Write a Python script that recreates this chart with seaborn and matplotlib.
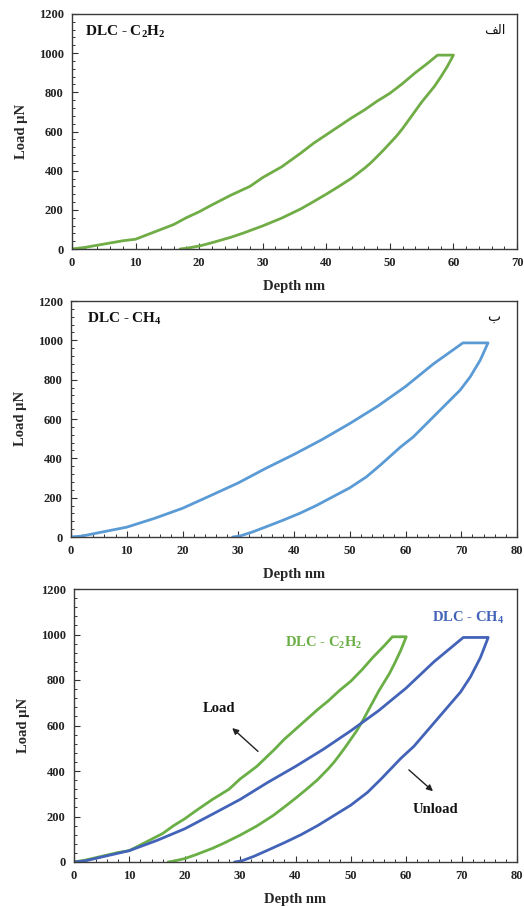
import matplotlib
matplotlib.use("Agg")
import matplotlib.pyplot as plt
import seaborn as sns
import pandas as pd
from matplotlib.ticker import MultipleLocator

# ---------------- data ----------------
c2h2_load_depth = [0, 2, 5, 8, 10, 12, 14, 16, 18, 20, 22, 25, 28, 30, 33, 36, 38, 41, 44, 46, 48, 50, 52, 54, 56, 57.5]
c2h2_load_force = [0, 8, 25, 42, 50, 75, 100, 125, 160, 190, 225, 275, 320, 365, 420, 490, 540, 605, 670, 710, 755, 795, 845, 900, 950, 990]
c2h2_unload_depth = [60, 59.5, 59, 58, 57, 56, 55, 54, 53, 52, 51, 50, 49, 48, 47, 46, 44, 42, 40, 38, 36, 33, 30, 27, 25, 22, 20, 18, 17]
c2h2_unload_force = [990, 960, 930, 878, 830, 790, 750, 705, 660, 615, 575, 540, 505, 472, 440, 412, 362, 320, 280, 242, 205, 158, 118, 82, 60, 32, 15, 4, 0]

ch4_load_depth = [0, 2, 5, 10, 15, 20, 25, 30, 35, 40, 45, 50, 55, 60, 65, 70.3]
ch4_load_force = [0, 5, 22, 50, 95, 146, 210, 275, 350, 420, 495, 577, 665, 765, 880, 987]
ch4_unload_depth = [74.8, 73.4, 71.6, 69.8, 67.4, 64.4, 61.4, 59, 55.5, 53, 50, 47, 44, 41, 38, 35, 32.5, 30.3, 29]
ch4_unload_force = [987, 899, 814, 747, 679, 594, 509, 455, 366, 306, 250, 205, 160, 120, 85, 52, 25, 5, 0]

y_ticks = [0, 200, 400, 600, 800, 1000, 1200]


def cycle_frame(ld, lf, ud, uf):
    d = list(ld) + list(ud)
    f = list(lf) + list(uf)
    return pd.DataFrame({"depth": d, "load": f})


c2h2 = cycle_frame(c2h2_load_depth, c2h2_load_force, c2h2_unload_depth, c2h2_unload_force)
ch4 = cycle_frame(ch4_load_depth, ch4_load_force, ch4_unload_depth, ch4_unload_force)

# ---------------- style ----------------
sns.set_style("white")
plt.rcParams["font.family"] = ["Liberation Serif", "DejaVu Sans"]
plt.rcParams["font.weight"] = "bold"
plt.rcParams["mathtext.fontset"] = "custom"
plt.rcParams["mathtext.bf"] = "Liberation Serif:bold"
plt.rcParams["mathtext.rm"] = "Liberation Serif:bold"
plt.rcParams["mathtext.default"] = "bf"

GREEN = "#70ad47"
LBLUE = "#5b9bd5"
DBLUE = "#4263b8"
GREEN3 = "#6aaf45"

fig = plt.figure(figsize=(5.24, 9.06), dpi=100)
W, H = 524.0, 906.0


def add_axes(l, r, t, b):
    return fig.add_axes([l / W, 1 - b / H, (r - l) / W, (b - t) / H])


ax1 = add_axes(72, 517, 14, 249)
ax2 = add_axes(71, 517, 301, 537)
ax3 = add_axes(74, 517, 589, 862)


def style(ax, xmax):
    ax.set_xlim(0, xmax)
    ax.set_ylim(0, 1200)
    ax.set_yticks(y_ticks)
    ax.xaxis.set_major_locator(MultipleLocator(10))
    ax.xaxis.set_minor_locator(MultipleLocator(2))
    ax.yaxis.set_minor_locator(MultipleLocator(40))
    ax.tick_params(which="both", direction="in", left=True, bottom=True,
                   top=False, right=False, colors="#333333", labelcolor="#222222")
    ax.tick_params(which="major", length=4, width=0.8, labelsize=9, pad=6)
    ax.tick_params(which="minor", length=2.5, width=0.7)
    for lab in ax.get_xticklabels() + ax.get_yticklabels():
        lab.set_fontweight("bold")
    for s in ax.spines.values():
        s.set_color("#3a3a3a")
        s.set_linewidth(1.0)
    ax.set_xlabel("Depth nm", fontsize=10.5, fontweight="bold", labelpad=8)
    ax.set_ylabel("Load \u00b5N", fontsize=10.5, fontweight="bold", labelpad=8)


# panel 1
sns.lineplot(data=c2h2, x="depth", y="load", sort=False, estimator=None,
             color=GREEN, linewidth=2.0, ax=ax1)
style(ax1, 70)
ax1.text(0.029, 0.925, "DLC - C$_2$H$_2$", transform=ax1.transAxes,
         fontsize=11, fontweight="bold", va="center", ha="left", color="#111111")
ax1.text(0.975, 0.932, "\uFED2\uFEDF\uFE8D", transform=ax1.transAxes,
         fontsize=9.5, fontweight="normal", va="center", ha="right", color="#111111",
         family=["DejaVu Sans", "Noto Sans"])

# panel 2
sns.lineplot(data=ch4, x="depth", y="load", sort=False, estimator=None,
             color=LBLUE, linewidth=2.0, ax=ax2)
style(ax2, 80)
ax2.text(0.036, 0.922, "DLC - CH$_4$", transform=ax2.transAxes,
         fontsize=11, fontweight="bold", va="center", ha="left", color="#111111")
ax2.text(0.962, 0.931, "\uFE8F", transform=ax2.transAxes,
         fontsize=10, fontweight="normal", va="center", ha="right", color="#111111",
         family=["DejaVu Sans", "Noto Sans"])

# panel 3
sns.lineplot(data=c2h2, x="depth", y="load", sort=False, estimator=None,
             color=GREEN3, linewidth=2.0, ax=ax3)
sns.lineplot(data=ch4, x="depth", y="load", sort=False, estimator=None,
             color=DBLUE, linewidth=2.0, ax=ax3)
style(ax3, 80)
ax3.text(45, 962, "DLC - C$_2$H$_2$", fontsize=10.5, fontweight="bold",
         ha="center", va="center", color=GREEN3)
ax3.text(71.2, 1072, "DLC - CH$_4$", fontsize=10.5, fontweight="bold",
         ha="center", va="center", color=DBLUE)
ax3.text(26.1, 676, "Load", fontsize=10.5, fontweight="bold",
         ha="center", va="center", color="#111111")
ax3.text(65.3, 232, "Unload", fontsize=10.5, fontweight="bold",
         ha="center", va="center", color="#111111")
ax3.annotate("", xy=(28.2, 597), xytext=(33.6, 478),
             arrowprops=dict(arrowstyle="-|>", color="#222222", lw=1.0,
                             mutation_scale=9))
ax3.annotate("", xy=(65.2, 303), xytext=(60.1, 413),
             arrowprops=dict(arrowstyle="-|>", color="#222222", lw=1.0,
                             mutation_scale=9))

fig.savefig("out.png", dpi=100)
